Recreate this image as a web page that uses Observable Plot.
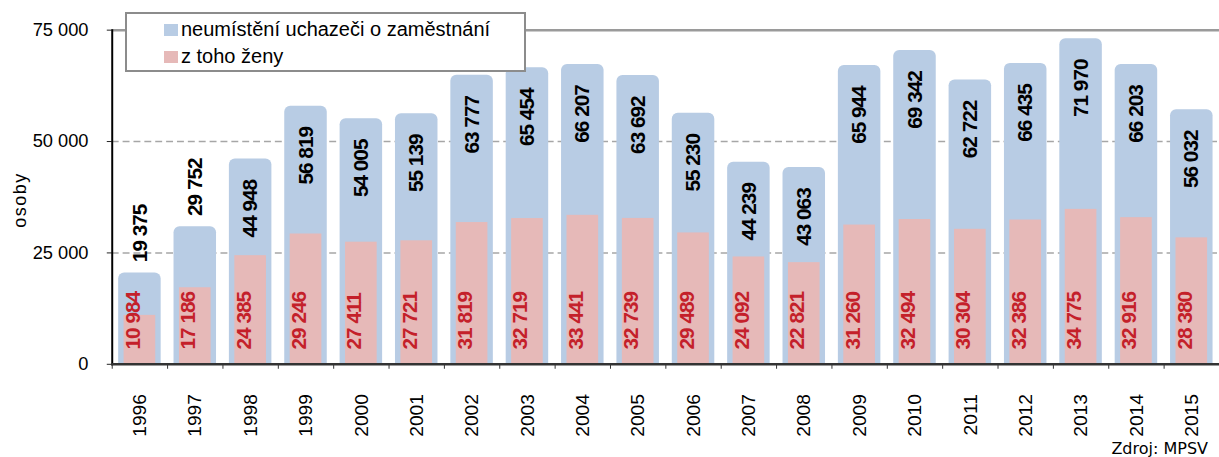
<!DOCTYPE html>
<html><head><meta charset="utf-8">
<script src="https://cdn.jsdelivr.net/npm/d3@7"></script>
<script src="https://cdn.jsdelivr.net/npm/@observablehq/plot@0.6"></script>
<style>
html,body{margin:0;padding:0;background:#fff;overflow:hidden;}
#wrap{position:relative;width:1219px;height:457px;overflow:hidden;font-family:'Liberation Sans',Arial,sans-serif;}
#wrap svg g[aria-label="text"] text{letter-spacing:-1px;}
#legend{position:absolute;left:125px;top:12px;width:397px;height:56px;border:2px solid #8c8c8c;background:#fff;font-size:20px;color:#000;}
#legend .it{position:absolute;left:37px;display:flex;align-items:center;white-space:nowrap;}
#legend .sw{display:inline-block;width:14px;height:12px;margin-right:3px;}
#src{position:absolute;right:11px;top:439px;font-family:'DejaVu Sans',sans-serif;font-size:16px;color:#000;}
#osoby{position:absolute;left:20px;top:200px;transform:translate(-50%,-50%) rotate(-90deg);font-size:18px;letter-spacing:1.5px;white-space:nowrap;}
</style></head><body><div id="wrap"></div>
<script>
const years = ["1996","1997","1998","1999","2000","2001","2002","2003","2004","2005","2006","2007","2008","2009","2010","2011","2012","2013","2014","2015"];
const totals = [19375, 29752, 44948, 56819, 54005, 55139, 63777, 65454, 66207, 63692, 55230, 44239, 43063, 65944, 69342, 62722, 66435, 71970, 66203, 56032];
const women = [10984, 17186, 24385, 29246, 27411, 27721, 31819, 32719, 33441, 32739, 29489, 24092, 22821, 31260, 32494, 30304, 32386, 34775, 32916, 28380];
const yTicks = [0, 25000, 50000, 75000];
const gridTicks = [25000, 50000];
const topLine = [75000];
const seriesNames = ["neumístění uchazeči o zaměstnání", "z toho ženy"];
const seriesColors = ["#b8cce4", "#e6b9b8"];
const yLabel = "osoby";
const source = "Zdroj: MPSV";

const data = years.map((y, i) => ({year: y, total: totals[i], women: women[i]}));
const fmt = v => d3.format(",")(v).replace(/,/g, " ");
const valueFont = "'Liberation Sans',Arial,sans-serif";

const plot = Plot.plot({
  width: 1233, height: 457,
  marginLeft: 113, marginRight: 0, marginTop: 30, marginBottom: 89,
  x: {domain: years, padding: 0, axis: null},
  y: {domain: [0, 75000], axis: null},
  style: {fontFamily: "'Liberation Sans',Arial,sans-serif", background: "white", color: "#000"},
  marks: [
    Plot.ruleY(gridTicks, {stroke: "#a6a6a6", strokeWidth: 1.5, strokeDasharray: "7,4"}),
    Plot.ruleY(topLine, {stroke: "#9a9a9a", strokeWidth: 2.5}),
    Plot.barY(data, {x: "year", y: "total", fill: seriesColors[0], insetLeft: 6.5, insetRight: 6.5, insetTop: -5, insetBottom: -8, rx: 6, clip: true}),
    Plot.barY(data, {x: "year", y: "women", fill: seriesColors[1], insetLeft: 12, insetRight: 12}),
    Plot.axisY({ticks: yTicks, tickFormat: fmt, tickSize: 5, tickPadding: 19, fontSize: 18.5, label: null, stroke: "#222"}),
    Plot.axisX({tickSize: 0, tickPadding: 30, tickRotate: -90, fontSize: 19.5, label: null}),
    Plot.axisX({tickSize: 5, tickFormat: () => "", dx: -28, label: null, stroke: "#333"}),
    Plot.frame({anchor: "left", stroke: "#000", strokeWidth: 2}),
    Plot.frame({anchor: "bottom", stroke: "#333", strokeWidth: 2.5}),
    Plot.text(data.filter(d => d.total >= 35000), {x: "year", y: "total", text: d => fmt(d.total), rotate: -90, textAnchor: "end", dy: 16, fontSize: 21, fontWeight: "bold", fontFamily: valueFont, fill: "#000"}),
    Plot.text(data.filter(d => d.total < 35000), {x: "year", y: "total", text: d => fmt(d.total), rotate: -90, textAnchor: "start", dy: -16, fontSize: 21, fontWeight: "bold", fontFamily: valueFont, fill: "#000"}),
    Plot.text(data, {x: "year", frameAnchor: "bottom", text: d => fmt(d.women), rotate: -90, textAnchor: "start", dy: -15, fontSize: 21, fontWeight: "bold", fontFamily: valueFont, fill: "#c4202a"})
  ]
});
const wrap = document.getElementById("wrap");
wrap.appendChild(plot);
const leg = document.createElement("div");
leg.id = "legend";
seriesNames.forEach((n, i) => {
  const it = document.createElement("div");
  it.className = "it";
  it.style.top = (i === 0 ? 4 : 31) + "px";
  it.innerHTML = `<span class="sw" style="background:${seriesColors[i]}"></span><span>${n}</span>`;
  leg.appendChild(it);
});
wrap.appendChild(leg);
const s = document.createElement("div"); s.id = "src"; s.textContent = source; wrap.appendChild(s);
const o = document.createElement("div"); o.id = "osoby"; o.textContent = yLabel; wrap.appendChild(o);
</script></body></html>
